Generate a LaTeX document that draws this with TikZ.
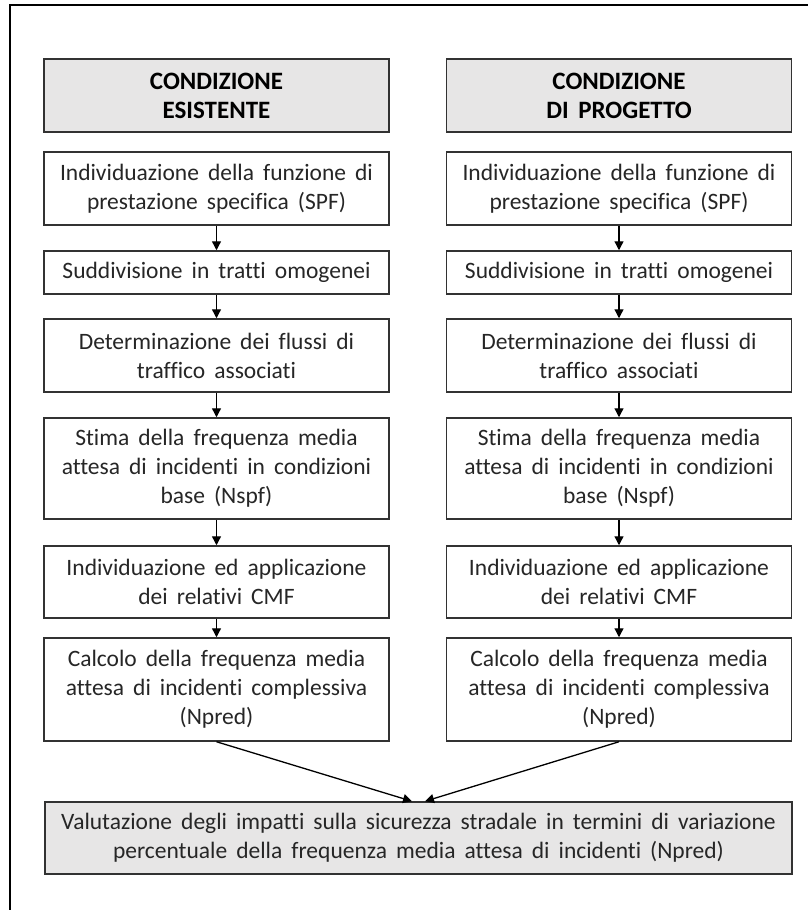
\documentclass[tikz,border=0pt]{standalone}
\usepackage{fontspec}
\setmainfont{Carlito}[WordSpace=1.7,Ligatures=NoCommon]
\usetikzlibrary{arrows.meta}
\definecolor{hdrfill}{RGB}{231,230,230}
\definecolor{txt}{RGB}{38,38,38}
\definecolor{brd}{RGB}{50,50,50}
\tikzset{
  stepbox/.style={draw=brd, line width=1.5pt, fill=white, minimum width=345pt, inner sep=0pt, align=center, text=txt, font=\fontsize{23.5}{29}\selectfont},
  hdrbox/.style={stepbox, fill=hdrfill, text=black, font=\fontsize{25}{29}\selectfont\bfseries},
  arr/.style={draw=black, line width=1.3pt, -{Triangle[width=9pt,length=9pt]}},
}
\begin{document}
\begin{tikzpicture}[x=1pt,y=-1pt]
\useasboundingbox (0,0) rectangle (808,910);
\draw[line width=2pt, black] (10,912) -- (10,5) -- (810,5);
% left column
\node[hdrbox, minimum height=73pt] (lh) at (216.5,95.5) {CONDIZIONE\\ESISTENTE};
\node[stepbox, minimum height=73pt] (l1) at (216.5,188.5) {Individuazione della funzione di\\prestazione specifica (SPF)};
\node[stepbox, minimum height=43pt] (l2) at (216.5,272.5) {Suddivisione in tratti omogenei};
\node[stepbox, minimum height=73pt] (l3) at (216.5,355.5) {Determinazione dei flussi di\\traffico associati};
\node[stepbox, minimum height=101pt] (l4) at (216.5,468.5) {Stima della frequenza media\\attesa di incidenti in condizioni\\base (Nspf)};
\node[stepbox, minimum height=72pt] (l5) at (216.5,582) {Individuazione ed applicazione\\dei relativi CMF};
\node[stepbox, minimum height=103pt] (l6) at (216.5,689.5) {Calcolo della frequenza media\\attesa di incidenti complessiva\\(Npred)};
% right column
\node[hdrbox, minimum height=73pt] (rh) at (619,95.5) {CONDIZIONE\\DI PROGETTO};
\node[stepbox, minimum height=73pt] (r1) at (619,188.5) {Individuazione della funzione di\\prestazione specifica (SPF)};
\node[stepbox, minimum height=43pt] (r2) at (619,272.5) {Suddivisione in tratti omogenei};
\node[stepbox, minimum height=73pt] (r3) at (619,355.5) {Determinazione dei flussi di\\traffico associati};
\node[stepbox, minimum height=101pt] (r4) at (619,468.5) {Stima della frequenza media\\attesa di incidenti in condizioni\\base (Nspf)};
\node[stepbox, minimum height=72pt] (r5) at (619,582) {Individuazione ed applicazione\\dei relativi CMF};
\node[stepbox, minimum height=103pt] (r6) at (619,689.5) {Calcolo della frequenza media\\attesa di incidenti complessiva\\(Npred)};
% bottom
\node[stepbox, fill=hdrfill, minimum width=747pt, minimum height=72pt] (bot) at (418.5,838) {Valutazione degli impatti sulla sicurezza stradale in termini di variazione\\percentuale della frequenza media attesa di incidenti (Npred)};
% arrows
\foreach \c in {l,r}{
  \draw[arr] (\c1.south) -- (\c2.north);
  \draw[arr] (\c2.south) -- (\c3.north);
  \draw[arr] (\c3.south) -- (\c4.north);
  \draw[arr] (\c4.south) -- (\c5.north);
  \draw[arr] (\c5.south) -- (\c6.north);
}
\draw[arr] (l6.south) -- ([xshift=-6.5pt]bot.north);
\draw[arr] (r6.south) -- ([xshift=6.5pt]bot.north);
\end{tikzpicture}
\end{document}
